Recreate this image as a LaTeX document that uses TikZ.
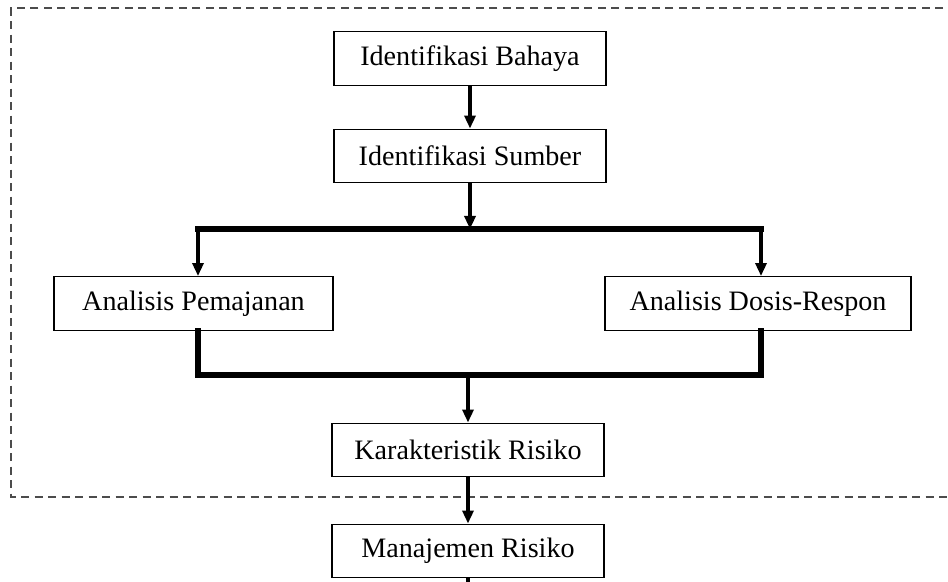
\documentclass[tikz,border=0pt]{standalone}
\usepackage{fontspec}
\setmainfont{Liberation Serif}
\usetikzlibrary{arrows.meta}

\tikzset{
	kotak/.style={draw,line width=0.8pt,minimum height=1.07cm,inner sep=0pt,font=\fontsize{16}{19}\selectfont},
	panah/.style={line width=1.8pt,-{Triangle[length=0.26cm,width=0.22cm]}},
	tebal/.style={line width=3.4pt,line cap=rect,line join=miter},
	bingkai/.style={draw=black!70,line width=0.9pt,dash pattern=on 0.16cm off 0.11cm}
}

\begin{document}
\begin{tikzpicture}
		\useasboundingbox (0,0) rectangle (18.96,11.64);
		\draw[bingkai] (19.4,11.48) -- (0.22,11.48) -- (0.22,1.70) -- (19.4,1.70);
		\node[kotak,minimum width=5.44cm] (bahaya) at (9.40,10.47) {Identifikasi Bahaya};
		\node[kotak,minimum width=5.44cm] (sumber) at (9.40,8.52) {Identifikasi Sumber};
		\node[kotak,minimum width=5.58cm] (pemajanan) at (3.87,5.57) {Analisis Pemajanan};
		\node[kotak,minimum width=6.12cm] (dosis) at (15.16,5.57) {Analisis Dosis-Respon};
		\node[kotak,minimum width=5.44cm] (karakteristik) at (9.36,2.64) {Karakteristik Risiko};
		\node[kotak,minimum width=5.44cm] (manajemen) at (9.36,0.62) {Manajemen Risiko};
		\coordinate (cabangL) at (3.96,7.06);
		\coordinate (cabangR) at (15.22,7.06);
		\coordinate (gabungL) at (3.96,4.14);
		\coordinate (gabungR) at (15.22,4.14);
		\coordinate (ujung) at (9.36,-0.3);
		\draw[panah] (bahaya) -- (sumber);
		\draw[panah] (sumber) -- (sumber |- cabangL);
		\draw[tebal] (cabangL) -- (cabangR);
		\draw[panah] (cabangL) -- (cabangL |- pemajanan.north);
		\draw[panah] (cabangR) -- (cabangR |- dosis.north);
		\draw[tebal] (cabangL |- pemajanan.south) -- (gabungL) -- (gabungR) -- (cabangR |- dosis.south);
		\draw[panah] (karakteristik.north |- gabungL) -- (karakteristik);
		\draw[panah] (karakteristik) -- (manajemen);
		\draw[line width=1.8pt] (manajemen) -- (ujung);
	\end{tikzpicture}
\end{document}
